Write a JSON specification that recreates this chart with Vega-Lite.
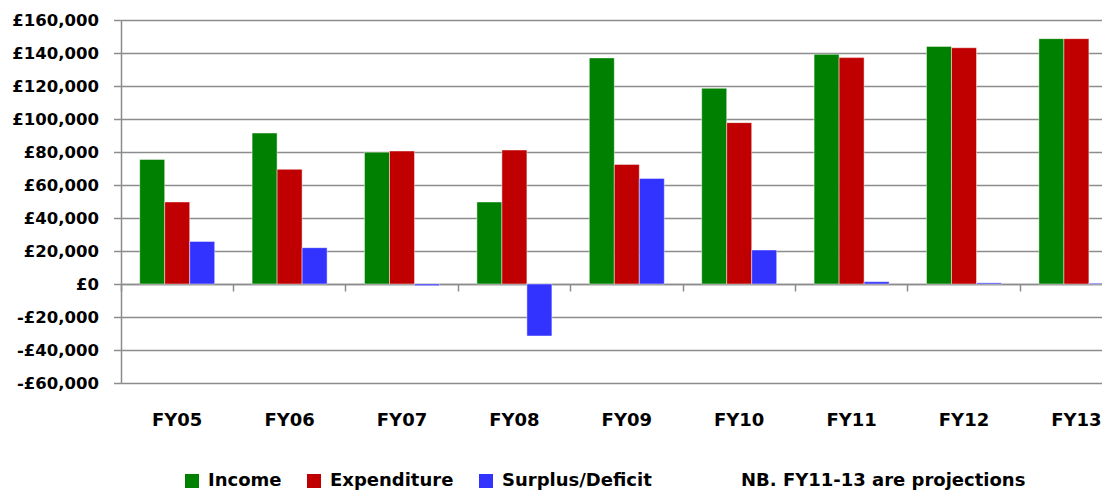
{
  "$schema": "https://vega.github.io/schema/vega-lite/v6.json",
  "autosize": "none",
  "padding": {"left": 121, "top": 20, "right": 0, "bottom": 107},
  "width": 981,
  "height": 363,
  "background": "white",
  "config": {
    "view": {"stroke": null},
    "font": "DejaVu Sans"
  },
  "data": {
    "values": [
      {"fy": "FY05", "series": "Income", "amount": 75500},
      {"fy": "FY05", "series": "Expenditure", "amount": 49700},
      {"fy": "FY05", "series": "Surplus/Deficit", "amount": 25800},
      {"fy": "FY06", "series": "Income", "amount": 91500},
      {"fy": "FY06", "series": "Expenditure", "amount": 69500},
      {"fy": "FY06", "series": "Surplus/Deficit", "amount": 22000},
      {"fy": "FY07", "series": "Income", "amount": 79900},
      {"fy": "FY07", "series": "Expenditure", "amount": 80600},
      {"fy": "FY07", "series": "Surplus/Deficit", "amount": -1000},
      {"fy": "FY08", "series": "Income", "amount": 49700},
      {"fy": "FY08", "series": "Expenditure", "amount": 81200},
      {"fy": "FY08", "series": "Surplus/Deficit", "amount": -31500},
      {"fy": "FY09", "series": "Income", "amount": 137000},
      {"fy": "FY09", "series": "Expenditure", "amount": 72500},
      {"fy": "FY09", "series": "Surplus/Deficit", "amount": 64000},
      {"fy": "FY10", "series": "Income", "amount": 118600},
      {"fy": "FY10", "series": "Expenditure", "amount": 97800},
      {"fy": "FY10", "series": "Surplus/Deficit", "amount": 20600},
      {"fy": "FY11", "series": "Income", "amount": 139200},
      {"fy": "FY11", "series": "Expenditure", "amount": 137200},
      {"fy": "FY11", "series": "Surplus/Deficit", "amount": 1400},
      {"fy": "FY12", "series": "Income", "amount": 144000},
      {"fy": "FY12", "series": "Expenditure", "amount": 143200},
      {"fy": "FY12", "series": "Surplus/Deficit", "amount": 700},
      {"fy": "FY13", "series": "Income", "amount": 148700},
      {"fy": "FY13", "series": "Expenditure", "amount": 148700},
      {"fy": "FY13", "series": "Surplus/Deficit", "amount": 500}
    ]
  },
  "mark": {"type": "bar", "stroke": "white", "strokeOpacity": 0.45, "strokeWidth": 1},
  "encoding": {
    "x": {
      "field": "fy", "type": "nominal", "sort": null,
      "scale": {"range": [0, 1011.6], "paddingInner": 0, "paddingOuter": 0},
      "axis": {
        "orient": "bottom", "offset": -99, "title": null, "labelAngle": 0,
        "bandPosition": 0, "ticks": true, "tickSize": 7, "tickColor": "#8c8c8c", "tickWidth": 1.5,
        "domainColor": "#8c8c8c", "domainWidth": 1.5, "grid": false,
        "labelPadding": 120,
        "labelFont": "DejaVu Sans", "labelFontWeight": "bold", "labelFontSize": 18, "labelColor": "black"
      }
    },
    "xOffset": {
      "field": "series", "type": "nominal",
      "scale": {"domain": ["Income", "Expenditure", "Surplus/Deficit"], "paddingInner": 0, "paddingOuter": 0.748}
    },
    "y": {
      "field": "amount", "type": "quantitative",
      "scale": {"domain": [-60000, 160000], "nice": false, "zero": false},
      "axis": {
        "title": null, "values": [-60000, -40000, -20000, 0, 20000, 40000, 60000, 80000, 100000, 120000, 140000, 160000],
        "labelExpr": "datum.value < 0 ? '-£' + format(-datum.value, ',') : '£' + format(datum.value, ',')",
        "labelFont": "DejaVu Sans", "labelFontWeight": "bold", "labelFontSize": 16.5, "labelColor": "black",
        "labelPadding": 15, "tickSize": 7.5, "tickColor": "#8c8c8c", "tickWidth": 1.5,
        "domainColor": "#8c8c8c", "domainWidth": 1.5,
        "grid": true, "gridColor": "#8c8c8c", "gridWidth": 1.5
      }
    },
    "color": {
      "field": "series", "type": "nominal",
      "scale": {"domain": ["Income", "Expenditure", "Surplus/Deficit"], "range": ["#008000", "#C00000", "#3333FF"]},
      "legend": {
        "orient": "none", "legendX": 62, "legendY": 452, "direction": "horizontal",
        "title": "NB. FY11-13 are projections", "titleOrient": "right", "titlePadding": 89, "titleLimit": 1000,
        "titleFont": "DejaVu Sans", "titleFontSize": 18, "titleFontWeight": "bold", "titleColor": "black",
        "titleBaseline": "middle",
        "symbolType": "square", "symbolSize": 196, "symbolStrokeWidth": 0,
        "labelFont": "DejaVu Sans", "labelFontSize": 18, "labelFontWeight": "bold", "labelColor": "black",
        "labelOffset": 7, "columnPadding": 23, "padding": 0
      }
    }
  }
}
